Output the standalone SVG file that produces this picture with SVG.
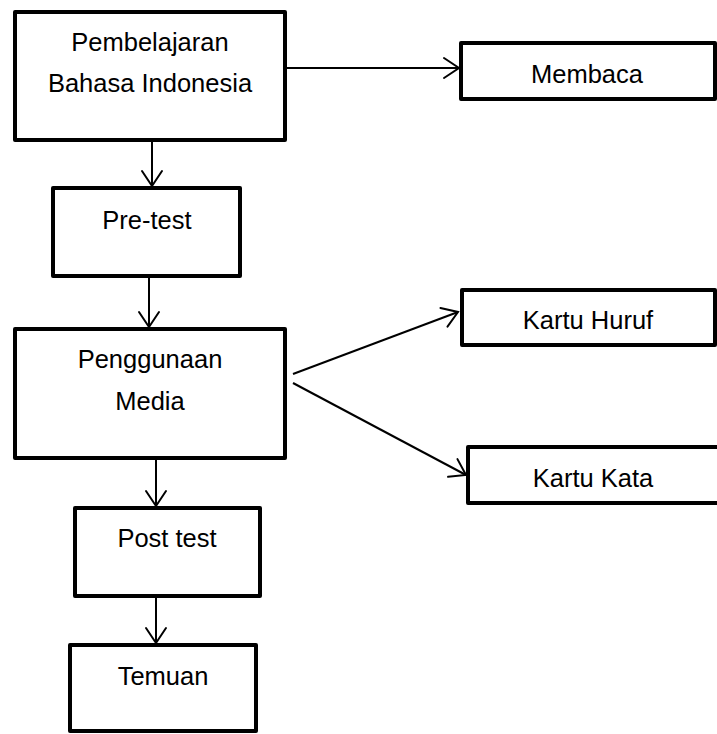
<svg xmlns="http://www.w3.org/2000/svg" width="717" height="734" viewBox="0 0 717 734">
  <style>
    .box { fill: #ffffff; stroke: #000000; stroke-width: 4; stroke-linejoin: round; }
    .lbl { font-family: "Liberation Sans", Arial, sans-serif; font-size: 25.5px; fill: #000000; text-anchor: middle; }
    .conn { stroke: #000000; stroke-width: 2; fill: none; }
  </style>
  <defs>
    <marker id="arr" markerUnits="userSpaceOnUse" viewBox="-17 -12 19 24" refX="0" refY="0" markerWidth="19" markerHeight="24" orient="auto">
      <path d="M-15,-10 L0,0 L-15,10" fill="none" stroke="#000000" stroke-width="2" stroke-linecap="round" stroke-linejoin="miter"/>
    </marker>
  </defs>
  <rect width="717" height="734" fill="#ffffff"/>

  <g id="connectors">
    <line class="conn" x1="285" y1="68" x2="459" y2="68" marker-end="url(#arr)"/>
    <line class="conn" x1="152" y1="140" x2="152" y2="186" marker-end="url(#arr)"/>
    <line class="conn" x1="149" y1="276" x2="149" y2="327" marker-end="url(#arr)"/>
    <line class="conn" x1="293" y1="374" x2="458" y2="312" marker-end="url(#arr)"/>
    <line class="conn" x1="293" y1="383" x2="466" y2="475" marker-end="url(#arr)"/>
    <line class="conn" x1="156" y1="458" x2="156" y2="506" marker-end="url(#arr)"/>
    <line class="conn" x1="156" y1="596" x2="156" y2="643" marker-end="url(#arr)"/>
  </g>

  <g id="pembelajaran">
    <rect class="box" x="15" y="12" width="270" height="128"/>
    <text class="lbl" x="150" y="51">Pembelajaran</text>
    <text class="lbl" x="150" y="92">Bahasa Indonesia</text>
  </g>

  <g id="membaca">
    <rect class="box" x="461" y="43" width="254" height="56"/>
    <text class="lbl" x="587" y="83">Membaca</text>
  </g>

  <g id="pretest">
    <rect class="box" x="53" y="188" width="187" height="88"/>
    <text class="lbl" x="147" y="229">Pre-test</text>
  </g>

  <g id="penggunaan">
    <rect class="box" x="15" y="329" width="270" height="129"/>
    <text class="lbl" x="150" y="368">Penggunaan</text>
    <text class="lbl" x="150" y="410">Media</text>
  </g>

  <g id="kartuhuruf">
    <rect class="box" x="462" y="290" width="253" height="55"/>
    <text class="lbl" x="588" y="329">Kartu Huruf</text>
  </g>

  <g id="kartukata">
    <rect class="box" x="468" y="447" width="260" height="56"/>
    <text class="lbl" x="593" y="487">Kartu Kata</text>
  </g>

  <g id="posttest">
    <rect class="box" x="75" y="508" width="185" height="88"/>
    <text class="lbl" x="167" y="547">Post test</text>
  </g>

  <g id="temuan">
    <rect class="box" x="70" y="645" width="186" height="86"/>
    <text class="lbl" x="163" y="685">Temuan</text>
  </g>
</svg>
